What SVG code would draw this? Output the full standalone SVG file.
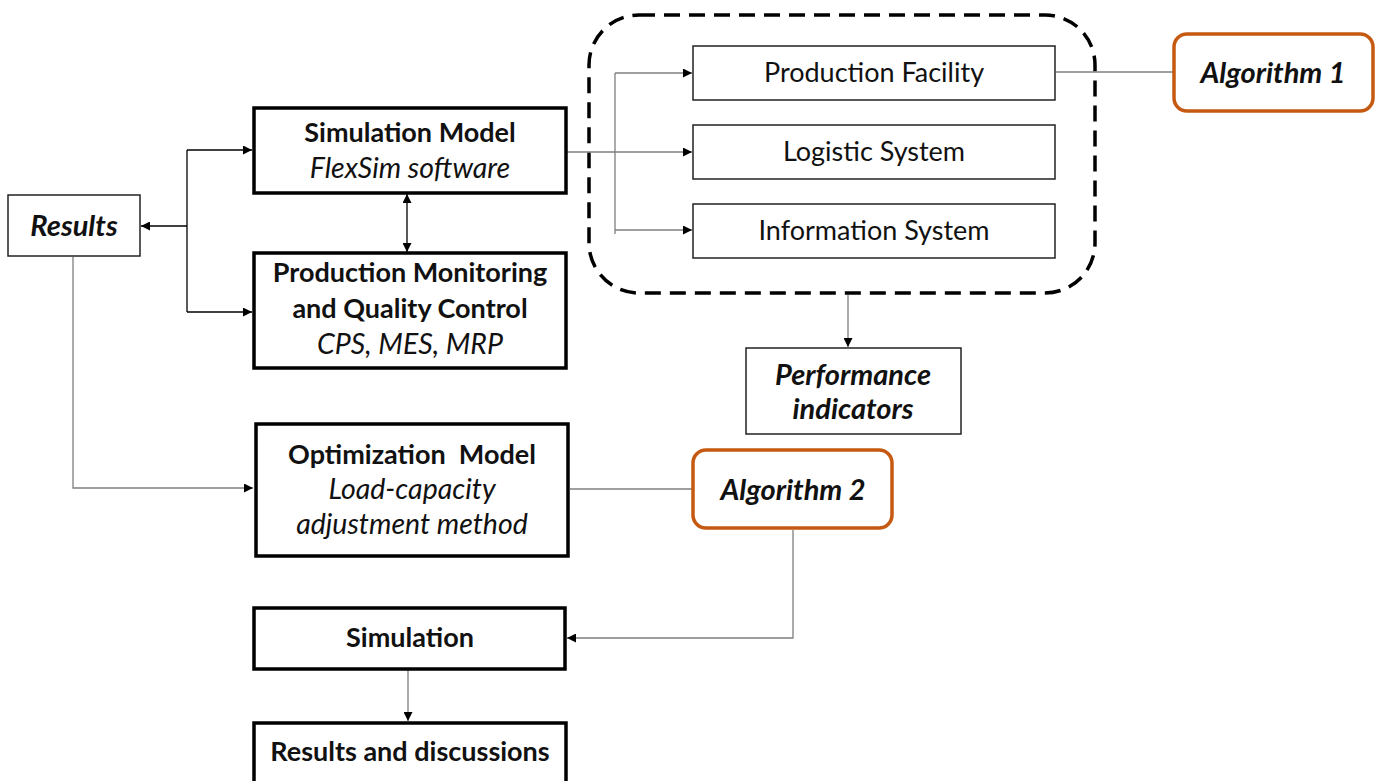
<svg xmlns="http://www.w3.org/2000/svg" width="1383" height="781" viewBox="0 0 1383 781">
  <style>
    .box { fill: #fff; stroke: #000; stroke-width: 3.5; }
    .thin { fill: #fff; stroke: #222; stroke-width: 1.5; }
    .algo { fill: #fff; stroke: #C65911; stroke-width: 3.5; }
    .group { fill: none; stroke: #000; stroke-width: 3.5; stroke-dasharray: 16 9; }
    .wire { fill: none; stroke: #7f7f7f; stroke-width: 1.3; }
    .wire-dark { fill: none; stroke: #000; stroke-width: 1.3; }
    text { font-family: Lato, "Open Sans", "Liberation Sans", sans-serif; fill: #111; text-anchor: middle; }
    .b { font-weight: bold; font-size: 27px; }
    .i { font-style: italic; font-size: 28.5px; }
    .bi { font-weight: bold; font-style: italic; font-size: 29px; }
    .r { font-size: 27px; }
  </style>
  <defs>
    <marker id="arrow" viewBox="0 0 10 10" refX="10" refY="5" markerWidth="9" markerHeight="9" markerUnits="userSpaceOnUse" orient="auto-start-reverse">
      <path d="M0,0 L10,5 L0,10 z" fill="#000"/>
    </marker>
  </defs>

  <!-- dashed system boundary -->
  <g id="system-boundary">
    <rect class="group" x="589" y="15" width="506" height="278" rx="50" ry="50"/>
  </g>

  <!-- connectors -->
  <g id="connectors">
    <!-- bus to results / simulation model / monitoring -->
    <path class="wire-dark" d="M187,150 V312"/>
    <path class="wire-dark" d="M187,150 H252" marker-end="url(#arrow)"/>
    <path class="wire-dark" d="M187,312 H252" marker-end="url(#arrow)"/>
    <path class="wire-dark" d="M187,226 H141" marker-end="url(#arrow)"/>
    <!-- simulation model <-> monitoring -->
    <path class="wire-dark" d="M407,194 V252" marker-start="url(#arrow)" marker-end="url(#arrow)"/>
    <!-- simulation model to subsystems -->
    <path class="wire" d="M567,152 H692" marker-end="url(#arrow)"/>
    <path class="wire" d="M615,73 V234"/>
    <path class="wire" d="M615,73 H692" marker-end="url(#arrow)"/>
    <path class="wire" d="M615,230 H692" marker-end="url(#arrow)"/>
    <!-- facility to algorithm 1 -->
    <path class="wire" d="M1056,72 H1173"/>
    <!-- boundary to performance indicators -->
    <path class="wire" d="M848,295 V347" marker-end="url(#arrow)"/>
    <!-- results to optimization model -->
    <path class="wire" d="M73,257 V488 H253" marker-end="url(#arrow)"/>
    <!-- optimization model to algorithm 2 -->
    <path class="wire" d="M570,489 H692"/>
    <!-- algorithm 2 to simulation -->
    <path class="wire" d="M793,530 V638 H567" marker-end="url(#arrow)"/>
    <!-- simulation to results and discussions -->
    <path class="wire" d="M408,670 V721" marker-end="url(#arrow)"/>
  </g>

  <g id="results">
    <rect class="thin" x="8" y="195" width="132" height="61"/>
    <text class="bi" x="74" y="236">Results</text>
  </g>

  <g id="simulation-model">
    <rect class="box" x="254" y="108" width="312" height="85"/>
    <text class="b" x="410" y="142">Simulation Model</text>
    <text class="i" x="410" y="178">FlexSim software</text>
  </g>

  <g id="production-monitoring">
    <rect class="box" x="254" y="253" width="312" height="115"/>
    <text class="b" x="410" y="282">Production Monitoring</text>
    <text class="b" x="410" y="318">and Quality Control</text>
    <text class="i" x="410" y="354">CPS, MES, MRP</text>
  </g>

  <g id="production-facility">
    <rect class="thin" x="693" y="46" width="362" height="54"/>
    <text class="r" x="874" y="82">Production Facility</text>
  </g>

  <g id="logistic-system">
    <rect class="thin" x="693" y="125" width="362" height="54"/>
    <text class="r" x="874" y="161">Logistic System</text>
  </g>

  <g id="information-system">
    <rect class="thin" x="693" y="204" width="362" height="54"/>
    <text class="r" x="874" y="240">Information System</text>
  </g>

  <g id="algorithm-1">
    <rect class="algo" x="1174" y="34" width="199" height="77" rx="13" ry="13"/>
    <text class="bi" x="1273" y="83">Algorithm 1</text>
  </g>

  <g id="performance-indicators">
    <rect class="thin" x="746" y="348" width="215" height="86"/>
    <text class="bi" x="853" y="385">Performance</text>
    <text class="bi" x="853" y="419">indicators</text>
  </g>

  <g id="optimization-model">
    <rect class="box" x="256" y="424" width="312" height="132"/>
    <text class="b" x="412" y="464" xml:space="preserve">Optimization  Model</text>
    <text class="i" x="412" y="499">Load-capacity</text>
    <text class="i" x="412" y="534">adjustment method</text>
  </g>

  <g id="algorithm-2">
    <rect class="algo" x="693" y="450" width="199" height="78" rx="13" ry="13"/>
    <text class="bi" x="793" y="500">Algorithm 2</text>
  </g>

  <g id="simulation">
    <rect class="box" x="254" y="608" width="311" height="61"/>
    <text class="b" x="410" y="647">Simulation</text>
  </g>

  <g id="results-and-discussions">
    <rect class="box" x="254" y="723" width="312" height="70"/>
    <text class="b" x="410" y="761">Results and discussions</text>
  </g>
</svg>
